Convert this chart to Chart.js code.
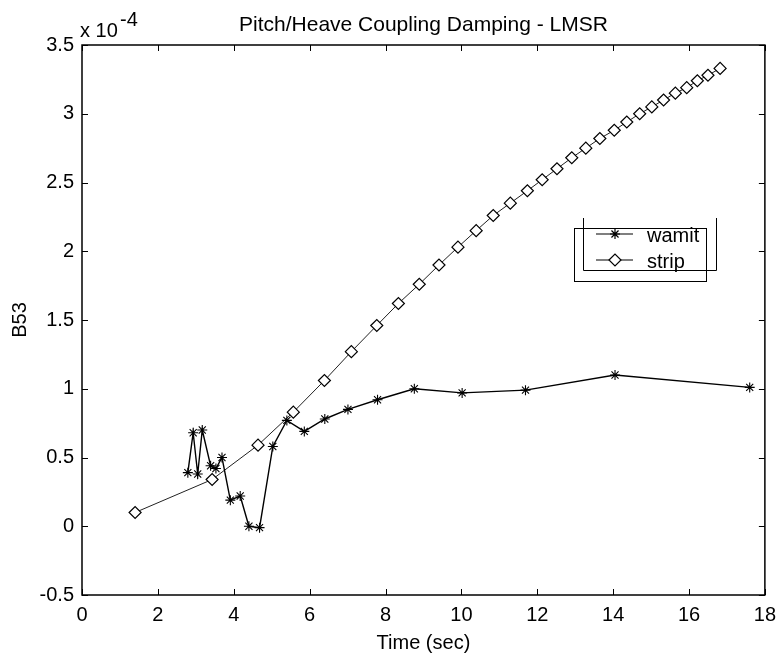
<!DOCTYPE html>
<html>
<head>
<meta charset="utf-8">
<title>Pitch/Heave Coupling Damping - LMSR</title>
<script src="https://cdn.jsdelivr.net/npm/chart.js@4/dist/chart.umd.min.js"></script>
<style>
  html, body { margin: 0; padding: 0; background: #fff; }
  canvas { display: block; }
</style>
</head>
<body>
<canvas id="chart" width="784" height="655"></canvas>
<script>
// values (B53 in units of 1e-4)
const wamitTime = [2.79, 2.93, 3.05, 3.17, 3.39, 3.53, 3.69, 3.91, 4.17, 4.40, 4.68, 5.03, 5.40, 5.86, 6.40, 7.01, 7.79, 8.76, 10.02, 11.69, 14.05, 17.60];
const wamitB53 = [0.39, 0.68, 0.38, 0.70, 0.44, 0.42, 0.50, 0.19, 0.22, 0.00, -0.01, 0.58, 0.77, 0.69, 0.78, 0.85, 0.92, 1.00, 0.97, 0.99, 1.10, 1.01];

const stripTime = [1.40, 3.43, 4.64, 5.57, 6.39, 7.10, 7.77, 8.34, 8.89, 9.41, 9.91, 10.39, 10.84, 11.29, 11.74, 12.13, 12.52, 12.91, 13.28, 13.65, 14.03, 14.36, 14.70, 15.02, 15.33, 15.64, 15.94, 16.22, 16.50, 16.82];
const stripB53 = [0.10, 0.34, 0.59, 0.83, 1.06, 1.27, 1.46, 1.62, 1.76, 1.90, 2.03, 2.15, 2.26, 2.35, 2.44, 2.52, 2.60, 2.68, 2.75, 2.82, 2.88, 2.94, 3.00, 3.05, 3.10, 3.15, 3.19, 3.24, 3.28, 3.33];

const xTickLabels = ['0', '2', '4', '6', '8', '10', '12', '14', '16', '18'];
const yTickLabels = ['-0.5', '0', '0.5', '1', '1.5', '2', '2.5', '3', '3.5'];
const seriesNames = ['wamit', 'strip'];
const titleText = 'Pitch/Heave Coupling Damping - LMSR';

const toPoints = (xs, ys) => xs.map((x, i) => ({ x: x, y: ys[i] }));

Chart.defaults.font.family = '"Liberation Sans", Arial, sans-serif';
Chart.defaults.font.size = 20;
Chart.defaults.color = '#000';

// matlab style box with inward ticks, title over the axes, legend and exponent label
const matlabFrame = {
    id: 'matlabFrame',
    afterDatasetsDraw(chart) {
        const { ctx, chartArea: a, scales } = chart;
        const tick = 6;
        ctx.save();
        ctx.strokeStyle = '#000';
        ctx.lineWidth = 1.5;
        ctx.strokeRect(a.left, a.top, a.right - a.left, a.bottom - a.top);
        ctx.lineWidth = 1;
        ctx.beginPath();
        scales.x.ticks.forEach(t => {
            const px = Math.round(scales.x.getPixelForValue(t.value)) + 0.5;
            ctx.moveTo(px, a.bottom); ctx.lineTo(px, a.bottom - tick);
            ctx.moveTo(px, a.top); ctx.lineTo(px, a.top + tick);
        });
        scales.y.ticks.forEach(t => {
            const py = Math.round(scales.y.getPixelForValue(t.value)) + 0.5;
            ctx.moveTo(a.left, py); ctx.lineTo(a.left + tick, py);
            ctx.moveTo(a.right, py); ctx.lineTo(a.right - tick, py);
        });
        ctx.stroke();

        ctx.fillStyle = '#000';
        ctx.textBaseline = 'alphabetic';

        // title centred on the axes
        ctx.font = '21px "Liberation Sans", Arial, sans-serif';
        ctx.textAlign = 'center';
        ctx.fillText(titleText, (a.left + a.right) / 2, 31);

        // exponent label
        ctx.font = '20px "Liberation Sans", Arial, sans-serif';
        ctx.textAlign = 'left';
        ctx.fillText('x 10', 80, 37);
        ctx.fillText('-4', 120, 26);

        // legend (double box as in the scan)
        ctx.lineWidth = 1;
        ctx.strokeRect(574.5, 228.5, 132, 53);
        ctx.beginPath();
        ctx.moveTo(583.5, 218); ctx.lineTo(583.5, 270.5);
        ctx.lineTo(716.5, 270.5); ctx.lineTo(716.5, 218);
        ctx.stroke();

        chart.data.datasets.forEach((ds, i) => {
            const y = 234 + i * 26;
            ctx.strokeStyle = '#000';
            ctx.lineWidth = 1.2;
            ctx.beginPath();
            ctx.moveTo(596, y); ctx.lineTo(633, y);
            ctx.stroke();
            ctx.fillStyle = ds.pointBackgroundColor;
            Chart.helpers.drawPoint(ctx, {
                pointStyle: ds.pointStyle,
                radius: ds.pointRadius,
                borderWidth: 1
            }, 615, y);
            ctx.fillStyle = '#000';
            ctx.textBaseline = 'middle';
            ctx.fillText(seriesNames[i], 647, y + 2);
        });
        ctx.restore();
    }
};

new Chart(document.getElementById('chart'), {
    type: 'scatter',
    data: {
        datasets: [{
            label: seriesNames[0],
            data: toPoints(wamitTime, wamitB53),
            showLine: true,
            borderColor: '#000',
            borderWidth: 1.4,
            pointStyle: 'star',
            pointRadius: 5,
            pointBorderColor: '#000',
            pointBorderWidth: 1.1,
            pointBackgroundColor: '#000'
        }, {
            label: seriesNames[1],
            data: toPoints(stripTime, stripB53),
            showLine: true,
            borderColor: '#222',
            borderWidth: 1,
            pointStyle: 'rectRot',
            pointRadius: 6,
            pointBorderColor: '#000',
            pointBorderWidth: 1.2,
            pointBackgroundColor: '#fff'
        }]
    },
    options: {
        responsive: false,
        animation: false,
        layout: { padding: { top: 45, right: 13, bottom: 0, left: 0 } },
        plugins: {
            legend: { display: false },
            tooltip: { enabled: false },
            title: { display: false }
        },
        scales: {
            x: {
                type: 'linear',
                min: 0,
                max: 18,
                grid: { display: false, drawTicks: false },
                border: { display: false },
                ticks: {
                    stepSize: 2,
                    padding: 8,
                    maxRotation: 0,
                    callback: (value, index) => xTickLabels[index]
                },
                title: { display: true, text: 'Time (sec)', padding: { top: 0, bottom: 0 } },
                afterFit: scale => { scale.height = 60; }
            },
            y: {
                type: 'linear',
                min: -0.5,
                max: 3.5,
                grid: { display: false, drawTicks: false },
                border: { display: false },
                ticks: {
                    stepSize: 0.5,
                    padding: 8,
                    callback: (value, index) => yTickLabels[index]
                },
                title: { display: true, text: 'B53', padding: { top: 8, bottom: 0 } },
                afterFit: scale => { scale.width = 82; }
            }
        }
    },
    plugins: [matlabFrame]
});
</script>
</body>
</html>
